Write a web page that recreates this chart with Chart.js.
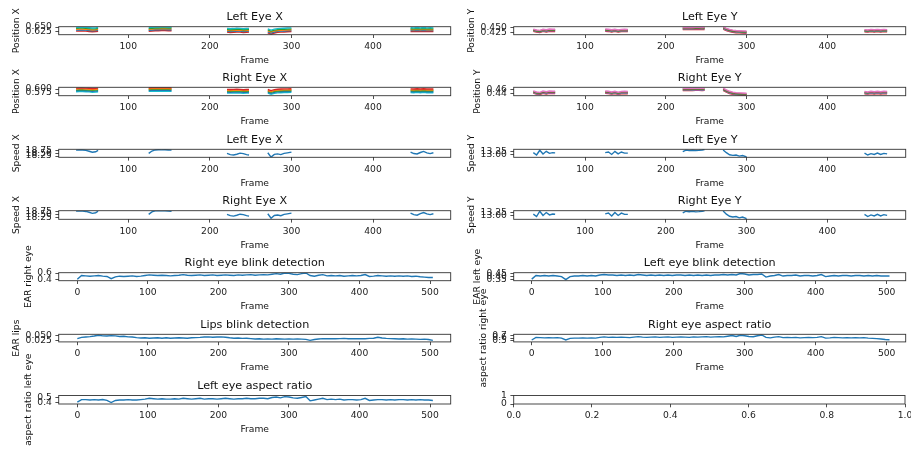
<!DOCTYPE html>
<html>
<head>
<meta charset="utf-8">
<script src="https://cdn.jsdelivr.net/npm/chart.js@4"></script>
<style>
  body { margin: 0; background: #fff; }
  #fig { position: relative; width: 911px; height: 450px; overflow: hidden; background: #fff; }
  #fig canvas { position: absolute; left: 0; top: 0; }
</style>
</head>
<body>
<div id="fig"></div>
<script>
// ---- data ----
// frames where the eyes were tracked (null rows split the segments)
const trackFrames = [36,40,44,48,52,56,60,63, 90, 125,129,133,137,141,145,149,153, 190,
  221,225,229,233,237,241,245,248, 260, 271,275,279,283,287,291,295,300, 380,
  446,450,454,458,462,466,470,474];

// Left Eye X position, one list per landmark
const leftEyeX1 = [.648,.649,.649,.648,.646,.644,.645,.647,null,.647,.649,.650,.650,.651,.651,.650,.650,null,.642,.640,.641,.643,.642,.640,.641,.642,null,.639,.632,.638,.641,.642,.643,.644,.645,null,.646,.645,.647,.645,.647,.645,.646,.645];
const leftEyeX2 = [.643,.644,.644,.643,.641,.639,.640,.642,null,.641,.643,.644,.644,.645,.645,.644,.644,null,.636,.634,.635,.637,.636,.634,.635,.636,null,.633,.626,.632,.635,.636,.637,.638,.639,null,.640,.639,.641,.639,.641,.639,.640,.639];
const leftEyeX3 = [.637,.638,.638,.637,.635,.633,.634,.636,null,.636,.638,.639,.639,.640,.640,.639,.639,null,.631,.629,.630,.632,.631,.629,.630,.631,null,.628,.621,.627,.630,.631,.632,.633,.634,null,.635,.634,.636,.634,.636,.634,.635,.634];
const leftEyeX4 = [.632,.633,.633,.632,.630,.628,.629,.631,null,.631,.633,.634,.634,.635,.635,.634,.634,null,.626,.624,.625,.627,.626,.624,.625,.626,null,.622,.615,.621,.625,.626,.627,.628,.629,null,.630,.629,.631,.629,.631,.629,.630,.629];
const leftEyeX5 = [.626,.627,.627,.626,.624,.622,.623,.625,null,.625,.627,.628,.628,.629,.629,.628,.628,null,.620,.618,.619,.621,.620,.618,.619,.620,null,.616,.608,.615,.619,.620,.621,.622,.623,null,.624,.623,.625,.623,.625,.623,.624,.623];

// Right Eye X position
const rightEyeX1 = [.606,.607,.607,.606,.605,.603,.604,.606,null,.608,.609,.609,.609,.609,.609,.609,.608,null,.598,.597,.598,.599,.598,.596,.597,.598,null,.597,.590,.596,.599,.600,.601,.601,.602,null,.601,.600,.602,.600,.602,.600,.601,.600];
const rightEyeX2 = [.600,.601,.601,.600,.599,.597,.598,.600,null,.602,.603,.603,.603,.603,.603,.603,.602,null,.592,.591,.592,.593,.592,.590,.591,.592,null,.591,.584,.590,.593,.594,.595,.595,.596,null,.595,.594,.596,.594,.596,.594,.595,.594];
const rightEyeX3 = [.595,.596,.596,.595,.594,.592,.593,.595,null,.597,.598,.598,.598,.598,.598,.598,.597,null,.587,.586,.587,.588,.587,.585,.586,.587,null,.586,.579,.585,.588,.589,.590,.590,.591,null,.590,.589,.591,.589,.591,.589,.590,.589];
const rightEyeX4 = [.589,.590,.590,.589,.588,.586,.587,.589,null,.591,.592,.592,.592,.592,.592,.592,.591,null,.581,.580,.581,.582,.581,.579,.580,.581,null,.580,.573,.579,.582,.583,.584,.584,.585,null,.584,.583,.585,.583,.585,.583,.584,.583];
const rightEyeX5 = [.583,.584,.584,.583,.582,.580,.581,.583,null,.585,.586,.586,.586,.586,.586,.586,.585,null,.575,.574,.575,.576,.575,.573,.574,.575,null,.574,.567,.573,.576,.577,.578,.578,.579,null,.578,.577,.579,.577,.579,.577,.578,.577];

// Left Eye Y position
const leftEyeY1 = [.444,.439,.437,.443,.440,.444,.443,.443,null,.444,.443,.440,.443,.439,.442,.443,.442,null,.453,.453,.454,.453,.454,.454,.453,.454,null,.456,.448,.442,.438,.436,.435,.434,.433,null,.441,.439,.442,.440,.442,.440,.442,.441];
const leftEyeY2 = [.441,.436,.434,.440,.437,.441,.440,.440,null,.441,.440,.437,.440,.436,.439,.440,.439,null,.450,.450,.451,.450,.451,.451,.450,.451,null,.453,.445,.439,.435,.433,.432,.431,.430,null,.438,.436,.439,.437,.439,.437,.439,.438];
const leftEyeY3 = [.438,.433,.431,.437,.434,.438,.437,.437,null,.438,.437,.434,.437,.433,.436,.437,.436,null,.447,.447,.448,.447,.448,.448,.447,.448,null,.450,.442,.436,.432,.430,.429,.428,.427,null,.435,.433,.436,.434,.436,.434,.436,.435];
const leftEyeY4 = [.435,.430,.428,.434,.431,.435,.434,.434,null,.435,.434,.431,.434,.430,.433,.434,.433,null,.444,.444,.445,.444,.445,.445,.444,.445,null,.447,.439,.433,.429,.427,.426,.425,.424,null,.432,.430,.433,.431,.433,.431,.433,.432];
const leftEyeY5 = [.432,.427,.425,.431,.428,.432,.431,.431,null,.432,.431,.428,.431,.427,.430,.431,.430,null,.441,.441,.442,.441,.442,.442,.441,.442,null,.444,.436,.430,.426,.424,.423,.422,.421,null,.429,.427,.430,.428,.430,.428,.430,.429];

// Right Eye Y position
const rightEyeY1 = [.453,.448,.446,.452,.449,.452,.451,.451,null,.452,.451,.448,.451,.447,.450,.451,.450,null,.464,.464,.465,.464,.465,.465,.464,.465,null,.465,.457,.451,.447,.445,.444,.443,.442,null,.450,.448,.451,.449,.451,.449,.451,.450];
const rightEyeY2 = [.450,.445,.443,.449,.446,.449,.448,.448,null,.449,.448,.445,.448,.444,.447,.448,.447,null,.461,.461,.462,.461,.462,.462,.461,.462,null,.462,.454,.448,.444,.442,.441,.440,.439,null,.447,.445,.448,.446,.448,.446,.448,.447];
const rightEyeY3 = [.448,.443,.441,.447,.444,.447,.446,.446,null,.447,.446,.443,.446,.442,.445,.446,.445,null,.459,.459,.460,.459,.460,.460,.459,.460,null,.460,.452,.446,.442,.440,.439,.438,.437,null,.445,.443,.446,.444,.446,.444,.446,.445];
const rightEyeY4 = [.445,.440,.438,.444,.441,.444,.443,.443,null,.444,.443,.440,.443,.439,.442,.443,.442,null,.456,.456,.457,.456,.457,.457,.456,.457,null,.457,.449,.443,.439,.437,.436,.435,.434,null,.442,.440,.443,.441,.443,.441,.443,.442];
const rightEyeY5 = [.443,.438,.436,.442,.439,.442,.441,.441,null,.442,.441,.438,.441,.437,.440,.441,.440,null,.454,.454,.455,.454,.455,.455,.454,.455,null,.455,.447,.441,.437,.435,.434,.433,.432,null,.440,.438,.441,.439,.441,.439,.441,.440];

// speeds
const speedLeftX = [18.80,18.82,18.82,18.78,18.70,18.60,18.65,18.78,null,18.50,18.72,18.82,18.84,18.83,18.84,18.82,18.80,null,18.50,18.38,18.35,18.42,18.52,18.48,18.38,18.35,null,18.56,18.15,18.40,18.45,18.38,18.50,18.55,18.62,null,18.62,18.48,18.44,18.58,18.68,18.55,18.48,18.56];
const speedLeftY = [13.15,12.98,13.33,13.05,13.25,13.10,13.15,13.14,null,13.15,13.20,13.02,13.25,13.06,13.20,13.12,13.12,null,13.22,13.34,13.30,13.33,13.30,13.32,13.35,13.38,null,13.35,13.15,13.00,12.95,12.98,12.90,12.94,12.84,null,13.12,12.98,13.08,13.02,13.12,13.02,13.10,13.06];
const speedRightX = [18.84,18.85,18.84,18.80,18.72,18.62,18.68,18.82,null,18.52,18.76,18.85,18.86,18.85,18.86,18.84,18.82,null,18.52,18.40,18.36,18.44,18.54,18.50,18.40,18.36,null,18.58,18.16,18.42,18.47,18.40,18.52,18.57,18.64,null,18.64,18.50,18.45,18.60,18.70,18.57,18.50,18.58];
const speedRightY = [13.14,12.96,13.36,13.04,13.26,13.08,13.15,13.13,null,13.16,13.22,13.00,13.27,13.04,13.22,13.12,13.12,null,13.24,13.36,13.32,13.35,13.31,13.33,13.36,13.39,null,13.37,13.14,12.98,12.92,12.96,12.86,12.92,12.80,null,13.12,12.96,13.08,13.00,13.12,13.00,13.10,13.05];

// whole-video frames
const earFrames = [0,6,12,18,24,30,36,42,48,54,60,66,72,78,84,90,96,102,108,114,120,126,132,138,144,150,156,162,168,174,
  180,186,192,198,204,210,216,222,228,234,240,246,252,258,264,270,276,282,288,294,300,306,312,318,324,330,336,342,348,354,
  360,366,372,378,384,390,396,402,408,414,420,426,432,438,444,450,456,462,468,474,480,486,492,498,504];

const earRightEye = [0.40,0.52,0.51,0.50,0.51,0.52,0.50,0.49,0.42,0.48, 0.50,0.49,0.50,0.51,0.49,0.50,0.52,0.54,0.53,0.52,
  0.53,0.52,0.51,0.52,0.53,0.55,0.53,0.52,0.53,0.54, 0.52,0.53,0.54,0.52,0.53,0.54,0.53,0.52,0.54,0.53,
  0.54,0.55,0.53,0.54,0.55,0.54,0.56,0.58,0.56,0.60, 0.59,0.56,0.55,0.58,0.60,0.52,0.50,0.53,0.55,0.51,
  0.52,0.51,0.52,0.50,0.51,0.52,0.51,0.52,0.55,0.49, 0.50,0.52,0.51,0.50,0.51,0.50,0.51,0.50,0.51,0.49,
  0.50,0.48,0.47,0.46,0.46];
const earLeftEye = [0.35,0.42,0.41,0.42,0.41,0.42,0.41,0.40,0.34,0.40, 0.41,0.41,0.42,0.41,0.42,0.41,0.43,0.44,0.43,0.43,
  0.42,0.43,0.42,0.43,0.42,0.44,0.43,0.42,0.43,0.42, 0.43,0.42,0.43,0.42,0.43,0.43,0.42,0.43,0.42,0.43,
  0.42,0.43,0.42,0.43,0.43,0.44,0.43,0.44,0.43,0.46, 0.45,0.43,0.44,0.44,0.45,0.39,0.41,0.42,0.44,0.41,
  0.42,0.42,0.43,0.41,0.42,0.42,0.41,0.42,0.44,0.40, 0.41,0.42,0.41,0.42,0.42,0.41,0.42,0.42,0.41,0.42,
  0.41,0.42,0.41,0.41,0.41];
const earLips = [0.036,0.042,0.044,0.046,0.049,0.053,0.050,0.049,0.051,0.050, 0.047,0.048,0.045,0.044,0.041,0.039,0.040,0.038,0.039,0.040,
  0.038,0.040,0.038,0.039,0.040,0.039,0.038,0.040,0.041,0.042, 0.044,0.045,0.043,0.044,0.045,0.043,0.040,0.038,0.039,0.037,
  0.038,0.036,0.034,0.035,0.033,0.034,0.033,0.035,0.034,0.033, 0.034,0.033,0.034,0.033,0.032,0.027,0.031,0.034,0.036,0.035,
  0.036,0.035,0.036,0.037,0.035,0.036,0.035,0.036,0.035,0.037, 0.038,0.043,0.039,0.037,0.036,0.035,0.034,0.035,0.033,0.034,
  0.033,0.032,0.033,0.031,0.027];
const aspectRightEye = [0.52,0.63,0.62,0.61,0.62,0.61,0.62,0.60,0.52,0.59, 0.60,0.60,0.61,0.60,0.61,0.60,0.63,0.65,0.63,0.64,
  0.63,0.64,0.63,0.62,0.64,0.66,0.64,0.63,0.64,0.65, 0.63,0.64,0.65,0.63,0.64,0.65,0.64,0.63,0.65,0.64,
  0.65,0.66,0.64,0.65,0.66,0.65,0.68,0.71,0.67,0.72, 0.70,0.67,0.66,0.70,0.73,0.63,0.61,0.64,0.66,0.62,
  0.63,0.62,0.63,0.61,0.62,0.63,0.62,0.63,0.66,0.60, 0.61,0.63,0.62,0.61,0.62,0.61,0.62,0.61,0.62,0.60,
  0.59,0.58,0.56,0.54,0.53];
const aspectLeftEye = [0.40,0.46,0.46,0.45,0.46,0.45,0.46,0.44,0.39,0.44, 0.45,0.45,0.46,0.45,0.45,0.46,0.47,0.49,0.48,0.47,
  0.48,0.47,0.47,0.48,0.47,0.49,0.48,0.47,0.48,0.49, 0.47,0.48,0.48,0.47,0.48,0.49,0.48,0.47,0.48,0.48,
  0.49,0.48,0.48,0.49,0.49,0.48,0.51,0.52,0.50,0.53, 0.52,0.50,0.49,0.51,0.53,0.43,0.45,0.47,0.49,0.46,
  0.47,0.46,0.47,0.45,0.46,0.46,0.45,0.46,0.49,0.44, 0.45,0.46,0.46,0.45,0.46,0.45,0.46,0.46,0.45,0.46,
  0.45,0.46,0.45,0.45,0.44];

// tick values and labels
const trackTicks = [100, 200, 300, 400];
const trackTickLabels = ['100', '200', '300', '400'];
const earTicks = [0, 100, 200, 300, 400, 500];
const earTickLabels = ['0', '100', '200', '300', '400', '500'];
const unitTicks = [0, 0.2, 0.4, 0.6, 0.8, 1];
const unitTickLabels = ['0.0', '0.2', '0.4', '0.6', '0.8', '1.0'];

// ---- drawing ----
const FONT = '"DejaVu Sans"';
Chart.defaults.font.family = FONT;
Chart.defaults.font.size = 9.2;
Chart.defaults.color = '#222';

const colsX = [[58.7, 450.7], [513.7, 905.7]];
const rowsY = [[26.7, 34.7], [87.3, 95.7], [149.3, 157.3], [210.7, 219.3], [272.7, 280.7], [334.3, 341.9], [395.5, 404]];
const Y_AXIS_W = 45, X_AXIS_H = 20;

const posXColorsA = ['#17becf', '#2ca02c', '#ff7f0e', '#1f77b4', '#d62728'];
const posXColorsB = ['#d62728', '#ff7f0e', '#2ca02c', '#1f77b4', '#17becf'];
const posYColors = ['#e377c2', '#8c564b', '#2ca02c', '#9467bd', '#d62728'];
const BLUE = '#1f77b4';

// titles, axis labels and frame around each axes
const axesText = {
  id: 'axesText',
  afterDraw(chart, args, opts) {
    const { ctx, chartArea: a } = chart;
    const cx = (a.left + a.right) / 2;
    ctx.save();
    ctx.strokeStyle = '#333';
    ctx.lineWidth = 0.9;
    ctx.strokeRect(a.left, a.top, a.right - a.left, a.bottom - a.top);
    ctx.fillStyle = '#111';
    ctx.textAlign = 'center';
    ctx.textBaseline = 'alphabetic';
    if (opts.title) {
      ctx.font = '11.2px ' + FONT;
      ctx.fillText(opts.title, cx, a.top - 6.3);
    }
    ctx.font = '9.2px ' + FONT;
    if (opts.xlabel) ctx.fillText(opts.xlabel, cx, a.bottom + 28.3);
    if (opts.ylabel) {
      const w = Math.max(...opts.yTickLabels.map(t => ctx.measureText(t).width));
      const x = a.left - 3.3 - 3.5 - w - 4 - 2.2;
      ctx.translate(x, (a.top + a.bottom) / 2);
      ctx.rotate(-Math.PI / 2);
      ctx.fillText(opts.ylabel, 0, 0);
    }
    ctx.restore();
  }
};

function panel(p) {
  const [L, R] = colsX[p.col];
  const [T, B] = rowsY[p.row];
  const right = p.right || R;
  const canvas = document.createElement('canvas');
  canvas.width = 911;
  canvas.height = 450;
  document.getElementById('fig').appendChild(canvas);

  const datasets = (p.lines || []).map(l => ({
    data: p.frames.map((f, i) => ({ x: f, y: l.values[i] })),
    borderColor: l.color,
    borderWidth: 1.4,
    pointRadius: 0,
    tension: 0,
    fill: false
  }));

  const tickGrid = { drawOnChartArea: false, drawTicks: true, tickLength: 3.3, color: '#222', lineWidth: 0.8 };

  new Chart(canvas, {
    type: 'line',
    data: { datasets },
    options: {
      responsive: false,
      animation: false,
      devicePixelRatio: 1,
      events: [],
      layout: { padding: { left: L - Y_AXIS_W, top: T, right: 911 - right, bottom: 450 - B - X_AXIS_H } },
      plugins: {
        legend: { display: false },
        tooltip: { enabled: false },
        axesText: { title: p.title, xlabel: p.xlabel, ylabel: p.ylabel, yTickLabels: p.yTickLabels }
      },
      scales: {
        x: {
          type: 'linear', position: 'bottom', min: p.xRange[0], max: p.xRange[1],
          afterBuildTicks: s => { s.ticks = p.xTicks.map(v => ({ value: v })); },
          afterFit: s => { s.height = X_AXIS_H; s.paddingLeft = 0; s.paddingRight = 0; },
          grid: tickGrid,
          border: { display: false },
          ticks: { autoSkip: false, maxRotation: 0, minRotation: 0, padding: 3, callback: (v, i) => p.xTickLabels[i] }
        },
        y: {
          type: 'linear', position: 'left', min: p.yRange[0], max: p.yRange[1],
          afterBuildTicks: s => { s.ticks = p.yTicks.map(v => ({ value: v })); },
          afterFit: s => { s.width = Y_AXIS_W; s.paddingTop = 0; s.paddingBottom = 0; },
          grid: tickGrid,
          border: { display: false },
          ticks: { autoSkip: false, padding: 3.5, callback: (v, i) => p.yTickLabels[i] }
        }
      }
    },
    plugins: [axesText]
  });
}

const trackRangeL = [14.7, 495.2], trackRangeR = [11.7, 497];
const earRangeL = [-26.4, 529.3], earRangeR = [-25.4, 526.8];
const lines = (arrs, colors) => arrs.map((v, i) => ({ values: v, color: colors[i] }));

panel({ row: 0, col: 0, title: 'Left Eye X', xlabel: 'Frame', ylabel: 'Position X', frames: trackFrames,
  lines: lines([leftEyeX1, leftEyeX2, leftEyeX3, leftEyeX4, leftEyeX5], posXColorsA),
  xRange: trackRangeL, xTicks: trackTicks, xTickLabels: trackTickLabels,
  yRange: [0.605, 0.652], yTicks: [0.625, 0.650], yTickLabels: ['0.625', '0.650'] });
panel({ row: 0, col: 1, title: 'Left Eye Y', xlabel: 'Frame', ylabel: 'Position Y', frames: trackFrames,
  lines: lines([leftEyeY1, leftEyeY2, leftEyeY3, leftEyeY4, leftEyeY5], posYColors),
  xRange: trackRangeR, xTicks: trackTicks, xTickLabels: trackTickLabels,
  yRange: [0.413, 0.457], yTicks: [0.425, 0.450], yTickLabels: ['0.425', '0.450'] });
panel({ row: 1, col: 0, title: 'Right Eye X', xlabel: 'Frame', ylabel: 'Position X', frames: trackFrames,
  lines: lines([rightEyeX1, rightEyeX2, rightEyeX3, rightEyeX4, rightEyeX5], posXColorsB),
  xRange: trackRangeL, xTicks: trackTicks, xTickLabels: trackTickLabels,
  yRange: [0.558, 0.611], yTicks: [0.575, 0.600], yTickLabels: ['0.575', '0.600'] });
panel({ row: 1, col: 1, title: 'Right Eye Y', xlabel: 'Frame', ylabel: 'Position Y', frames: trackFrames,
  lines: lines([rightEyeY1, rightEyeY2, rightEyeY3, rightEyeY4, rightEyeY5], posYColors),
  xRange: trackRangeR, xTicks: trackTicks, xTickLabels: trackTickLabels,
  yRange: [0.431, 0.469], yTicks: [0.44, 0.46], yTickLabels: ['0.44', '0.46'] });
panel({ row: 2, col: 0, title: 'Left Eye X', xlabel: 'Frame', ylabel: 'Speed X', frames: trackFrames,
  lines: [{ values: speedLeftX, color: BLUE }],
  xRange: trackRangeL, xTicks: trackTicks, xTickLabels: trackTickLabels,
  yRange: [18.13, 18.88], yTicks: [18.25, 18.50, 18.75], yTickLabels: ['18.25', '18.50', '18.75'] });
panel({ row: 2, col: 1, title: 'Left Eye Y', xlabel: 'Frame', ylabel: 'Speed Y', frames: trackFrames,
  lines: [{ values: speedLeftY, color: BLUE }],
  xRange: trackRangeR, xTicks: trackTicks, xTickLabels: trackTickLabels,
  yRange: [12.81, 13.40], yTicks: [13.00, 13.25], yTickLabels: ['13.00', '13.25'] });
panel({ row: 3, col: 0, title: 'Right Eye X', xlabel: 'Frame', ylabel: 'Speed X', frames: trackFrames,
  lines: [{ values: speedRightX, color: BLUE }],
  xRange: trackRangeL, xTicks: trackTicks, xTickLabels: trackTickLabels,
  yRange: [18.06, 18.87], yTicks: [18.25, 18.50, 18.75], yTickLabels: ['18.25', '18.50', '18.75'] });
panel({ row: 3, col: 1, title: 'Right Eye Y', xlabel: 'Frame', ylabel: 'Speed Y', frames: trackFrames,
  lines: [{ values: speedRightY, color: BLUE }],
  xRange: trackRangeR, xTicks: trackTicks, xTickLabels: trackTickLabels,
  yRange: [12.75, 13.40], yTicks: [13.00, 13.25], yTickLabels: ['13.00', '13.25'] });
panel({ row: 4, col: 0, title: 'Right eye blink detection', xlabel: 'Frame', ylabel: 'EAR right eye', frames: earFrames,
  lines: [{ values: earRightEye, color: BLUE }],
  xRange: earRangeL, xTicks: earTicks, xTickLabels: earTickLabels,
  yRange: [0.357, 0.61], yTicks: [0.4, 0.6], yTickLabels: ['0.4', '0.6'] });
panel({ row: 4, col: 1, title: 'Left eye blink detection', xlabel: 'Frame', ylabel: 'EAR left eye', frames: earFrames,
  lines: [{ values: earLeftEye, color: BLUE }],
  xRange: earRangeR, xTicks: earTicks, xTickLabels: earTickLabels,
  yRange: [0.32, 0.475], yTicks: [0.35, 0.40, 0.45], yTickLabels: ['0.35', '0.40', '0.45'] });
panel({ row: 5, col: 0, title: 'Lips blink detection', xlabel: 'Frame', ylabel: 'EAR lips', frames: earFrames,
  lines: [{ values: earLips, color: BLUE }],
  xRange: earRangeL, xTicks: earTicks, xTickLabels: earTickLabels,
  yRange: [0.019, 0.058], yTicks: [0.025, 0.050], yTickLabels: ['0.025', '0.050'] });
panel({ row: 5, col: 1, title: 'Right eye aspect ratio', xlabel: 'Frame', ylabel: 'aspect ratio right eye', frames: earFrames,
  lines: [{ values: aspectRightEye, color: BLUE }],
  xRange: earRangeR, xTicks: earTicks, xTickLabels: earTickLabels,
  yRange: [0.44, 0.76], yTicks: [0.5, 0.6, 0.7], yTickLabels: ['0.5', '0.6', '0.7'] });
panel({ row: 6, col: 0, title: 'Left eye aspect ratio', xlabel: 'Frame', ylabel: 'aspect ratio left eye', frames: earFrames,
  lines: [{ values: aspectLeftEye, color: BLUE }],
  xRange: earRangeL, xTicks: earTicks, xTickLabels: earTickLabels,
  yRange: [0.356, 0.556], yTicks: [0.4, 0.5], yTickLabels: ['0.4', '0.5'] });
panel({ row: 6, col: 1, right: 905, frames: [], lines: [],
  xRange: [0, 1], xTicks: unitTicks, xTickLabels: unitTickLabels,
  yRange: [0, 1], yTicks: [0, 1], yTickLabels: ['0', '1'] });
</script>
</body>
</html>
